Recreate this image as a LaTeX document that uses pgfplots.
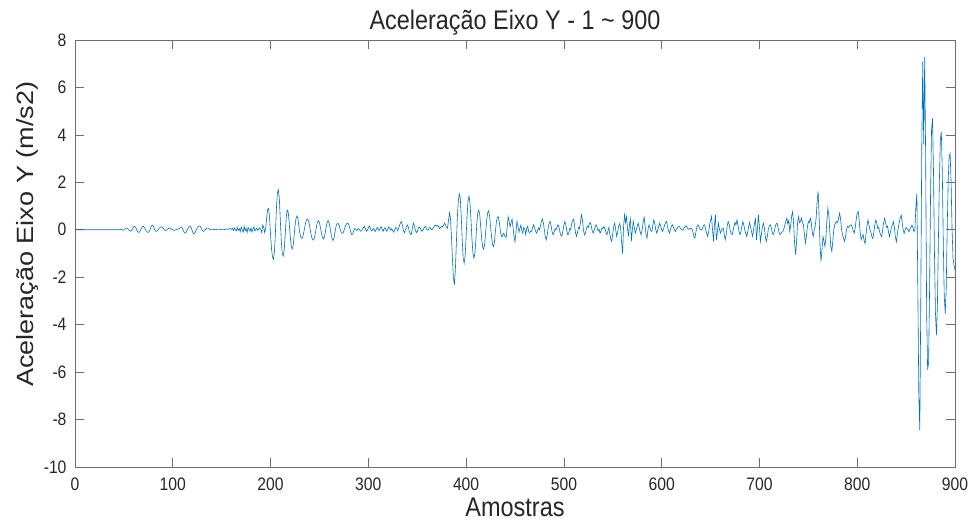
\documentclass[border=0pt]{standalone}
\usepackage{fontspec}
\setmainfont{Liberation Sans}
\usepackage{graphicx}
\usepackage{pgfplots}
\pgfplotsset{compat=1.18}
\definecolor{mlblue}{RGB}{0,114,189}
\definecolor{axgray}{RGB}{110,110,110}
\definecolor{txtgray}{RGB}{38,38,38}

\begin{document}
\begin{tikzpicture}
\begin{axis}[
  width=880pt, height=427pt, scale only axis,
  xmin=0, xmax=900, ymin=-10, ymax=8,
  xtick={0,100,...,900}, ytick={-10,-8,...,8},
  tick align=inside, xtick pos=both, ytick pos=both,
  major tick length=8.8pt,
  axis line style={axgray, line width=0.6pt},
  tick style={axgray, line width=0.6pt},
  /pgf/number format/assume math mode=true,
  tick label style={font=\fontsize{15.7}{16}\selectfont, text=txtgray},
  xticklabel={\scalebox{1}[1.15]{\pgfmathprintnumber{\tick}}},
  yticklabel={\scalebox{1}[1.15]{\pgfmathprintnumber{\tick}}},
  xticklabel style={yshift=-7pt},
  yticklabel style={xshift=-5pt},
  title={\scalebox{1}[1.15]{Aceleração Eixo Y - 1 \textasciitilde\ 900}},
  title style={font=\fontsize{23.4}{24}\selectfont, text=txtgray,
    at={(axis description cs:0.5,1.026)}, anchor=center},
  xlabel={\scalebox{1}[1.15]{Amostras}},
  ylabel={\scalebox{1.15}[1]{Aceleração Eixo Y (m/s2)}},
  xlabel style={font=\fontsize{23.5}{24}\selectfont, text=txtgray,
    at={(axis description cs:0.5,-0.0937)}, anchor=center},
  ylabel style={font=\fontsize{23.5}{24}\selectfont, text=txtgray,
    at={(axis description cs:-0.0545,0.545)}, anchor=center},
]
\addplot[mlblue, line width=0.6pt] table[row sep=\\] {
x y\\
1 0\\45 0\\46 0.01\\47 0.02\\48 0\\49 -0.02\\50 0\\
51 0.04\\52 0.07\\53 0.07\\54 0.04\\55 0\\56 -0.04\\57 -0.06\\58 -0.03\\59 0.06\\60 0.13\\
61 0.14\\62 0.1\\63 0.02\\64 -0.08\\65 -0.11\\66 -0.09\\67 -0.02\\68 0.07\\69 0.13\\70 0.14\\
71 0.1\\72 0.02\\73 -0.06\\74 -0.1\\75 -0.11\\76 -0.07\\77 0.03\\78 0.14\\79 0.2\\80 0.16\\
81 0.06\\82 -0.04\\83 -0.07\\84 -0.05\\85 0\\86 0.06\\87 0.1\\88 0.12\\89 0.12\\90 0.08\\
91 0.02\\92 -0.02\\93 -0.03\\94 0\\95 0.04\\96 0.07\\97 0.08\\98 0.05\\99 0.02\\100 0\\
101 -0.02\\102 -0.02\\103 0\\104 0.01\\105 0.02\\106 0.04\\107 0.07\\108 0.11\\109 0.12\\110 0.06\\
111 -0.06\\112 -0.13\\113 -0.14\\114 -0.08\\115 0.02\\116 0.1\\117 0.15\\118 0.16\\119 0.08\\120 -0.06\\
121 -0.15\\122 -0.17\\123 -0.1\\124 0\\125 0.08\\126 0.14\\127 0.16\\128 0.15\\129 0.08\\130 -0.02\\
131 -0.07\\132 -0.05\\133 0\\134 0.04\\135 0.07\\136 0.07\\137 0.04\\138 0.01\\139 0\\140 0\\
141 0.01\\142 0.02\\143 0.01\\144 0\\145 0.01\\146 0.02\\147 0.03\\148 0.02\\149 0.01\\150 0.02\\
151 0.03\\152 0.02\\153 0.01\\154 0.02\\155 0.03\\156 0.04\\157 0.02\\158 0.03\\159 0.05\\160 0.02\\
161 0.06\\162 -0.03\\163 0.08\\164 0.01\\165 -0.05\\166 0.1\\167 -0.02\\168 0.05\\169 -0.08\\170 0.12\\
171 0\\172 -0.1\\173 0.14\\174 -0.04\\175 0.06\\176 -0.12\\177 0.1\\178 0.02\\179 -0.06\\180 0.08\\
181 -0.1\\182 0.04\\183 0.12\\184 -0.05\\185 0.02\\186 0.07\\187 -0.03\\188 0.05\\189 0.09\\190 0.01\\
191 -0.12\\192 0.2\\193 0.1\\194 -0.12\\195 0.05\\196 0.5\\197 0.85\\198 0.9\\199 0.5\\200 -0.2\\
201 -0.8\\202 -1.15\\203 -1.24\\204 -0.9\\205 -0.1\\206 0.9\\207 1.55\\208 1.68\\209 1.3\\210 0.4\\
211 -0.5\\212 -1.0\\213 -1.1\\214 -0.85\\215 -0.2\\216 0.5\\217 0.83\\218 0.75\\219 0.35\\220 -0.2\\
221 -0.65\\222 -0.82\\223 -0.7\\224 -0.3\\225 0.15\\226 0.48\\227 0.58\\228 0.45\\229 0.15\\230 -0.15\\
231 -0.32\\232 -0.36\\233 -0.3\\234 -0.1\\235 0.12\\236 0.32\\237 0.43\\238 0.45\\239 0.35\\240 0.15\\
241 -0.1\\242 -0.3\\243 -0.42\\244 -0.43\\245 -0.32\\246 -0.1\\247 0.15\\248 0.33\\249 0.38\\250 0.3\\
251 0.1\\252 -0.12\\253 -0.32\\254 -0.39\\255 -0.3\\256 -0.1\\257 0.15\\258 0.33\\259 0.38\\260 0.28\\
261 0.05\\262 -0.2\\263 -0.4\\264 -0.45\\265 -0.33\\266 -0.08\\267 0.15\\268 0.25\\269 0.27\\270 0.2\\
271 0.05\\272 -0.08\\273 -0.14\\274 -0.15\\275 -0.05\\276 0.1\\277 0.2\\278 0.26\\279 0.27\\280 0.22\\
281 0.08\\282 -0.1\\283 -0.2\\284 -0.18\\285 -0.05\\286 0.05\\287 0.03\\288 -0.02\\289 0.02\\290 0.05\\
291 0\\292 -0.06\\293 -0.04\\294 0.03\\295 0.1\\296 0.14\\297 0.05\\298 -0.06\\299 -0.02\\300 0.08\\
301 0.16\\302 0.08\\303 -0.05\\304 -0.03\\305 0.06\\306 0.02\\307 -0.08\\308 0\\309 0.1\\310 0.05\\
311 -0.04\\312 0.06\\313 0.13\\314 0.04\\315 -0.07\\316 0.02\\317 0.09\\318 0\\319 -0.06\\320 0.04\\
321 0.12\\322 0.06\\323 -0.02\\324 0.05\\325 -0.05\\326 -0.1\\327 0\\328 0.1\\329 0.06\\330 -0.04\\
331 0.05\\332 0.2\\333 0.3\\334 0.34\\335 0.15\\336 -0.05\\337 -0.12\\338 0\\339 0.14\\340 0.2\\
341 0.1\\342 -0.08\\343 -0.18\\344 -0.2\\345 0.05\\346 0.28\\347 0.2\\348 0\\349 -0.12\\350 -0.08\\
351 0.05\\352 0.12\\353 0.08\\354 -0.02\\355 -0.06\\356 0\\357 0.08\\358 0.14\\359 0.1\\360 0\\
361 -0.02\\362 0.05\\363 0.1\\364 0.04\\365 0\\366 0.06\\367 0.12\\368 0.18\\369 0.2\\370 0.15\\
371 0.18\\372 0.12\\373 0.05\\374 0.1\\375 0.15\\376 0.12\\377 0.2\\378 0.28\\379 0.2\\380 0.1\\
381 0.07\\382 0.4\\383 0.72\\384 0.5\\385 -0.3\\386 -1.2\\387 -2.0\\388 -2.33\\389 -1.7\\390 -0.6\\
391 0.5\\392 1.2\\393 1.51\\394 1.35\\395 0.6\\396 -0.4\\397 -1.2\\398 -1.41\\399 -1.1\\400 -0.3\\
401 0.6\\402 1.25\\403 1.42\\404 1.1\\405 0.4\\406 -0.4\\407 -1.0\\408 -1.2\\409 -1.0\\410 -0.4\\
411 0.3\\412 0.75\\413 0.83\\414 0.6\\415 0.1\\416 -0.4\\417 -0.75\\418 -0.82\\419 -0.6\\420 -0.1\\
421 0.4\\422 0.72\\423 0.8\\424 0.6\\425 0.15\\426 -0.3\\427 -0.62\\428 -0.71\\429 -0.5\\430 -0.05\\
431 0.35\\432 0.53\\433 0.55\\434 0.3\\435 -0.05\\436 -0.25\\437 -0.29\\438 -0.15\\439 -0.2\\440 -0.3\\
441 -0.32\\442 0.1\\443 0.55\\444 0.35\\445 0.13\\446 0.3\\447 0.45\\448 0.1\\449 -0.3\\450 -0.5\\
451 -0.1\\452 0.35\\453 0.15\\454 -0.1\\455 0.05\\456 0.2\\457 -0.05\\458 -0.15\\459 0.1\\460 0.02\\
461 -0.2\\462 0.05\\463 0.15\\464 -0.08\\465 -0.12\\466 -0.05\\467 -0.07\\468 0.1\\469 0.21\\470 0.1\\
471 -0.05\\472 -0.14\\473 -0.05\\474 0.08\\475 0\\476 0.15\\477 0.35\\478 0.45\\479 0.3\\480 0\\
481 -0.3\\482 -0.42\\483 -0.2\\484 0.1\\485 0.3\\486 0.35\\487 0.15\\488 -0.1\\489 -0.21\\490 -0.1\\
491 0.05\\492 0\\493 0.12\\494 0.21\\495 0.1\\496 -0.1\\497 -0.25\\498 -0.28\\499 -0.05\\500 0.2\\
501 0.35\\502 0.2\\503 -0.05\\504 -0.21\\505 -0.15\\506 0.05\\507 0\\508 0.25\\509 0.4\\510 0.45\\
511 0.15\\512 -0.15\\513 -0.28\\514 -0.1\\515 0.1\\516 0.05\\517 0.35\\518 0.63\\519 0.4\\520 0\\
521 -0.21\\522 -0.15\\523 0.05\\524 0.15\\525 0.1\\526 0.25\\527 0.31\\528 0.15\\529 -0.05\\530 -0.14\\
531 0\\532 0.12\\533 0.21\\534 0.1\\535 -0.05\\536 0.02\\537 -0.14\\538 -0.05\\539 0.08\\540 0.05\\
541 0.14\\542 0.05\\543 -0.1\\544 -0.21\\545 -0.05\\546 0.1\\547 -0.2\\548 -0.4\\549 -0.49\\550 -0.15\\
551 0.15\\552 0.28\\553 0\\554 -0.28\\555 -0.1\\556 0.15\\557 0.25\\558 0.1\\559 -0.5\\560 -1.0\\
561 0.1\\562 0.63\\563 0.3\\564 0.56\\565 0.1\\566 -0.28\\567 0.2\\568 0.45\\569 -0.49\\570 0\\
571 0.35\\572 0.1\\573 -0.14\\574 0\\575 0.15\\576 0.28\\577 0.1\\578 -0.1\\579 -0.21\\580 0\\
581 0.3\\582 0.53\\583 0.2\\584 -0.2\\585 -0.35\\586 0\\587 0.21\\588 0.1\\589 -0.05\\590 -0.07\\
591 0.2\\592 0.42\\593 0.25\\594 0\\595 -0.14\\596 0\\597 0.15\\598 0.28\\599 0.15\\600 0\\
601 -0.07\\602 0.05\\603 0.2\\604 0.3\\605 0.35\\606 0.15\\607 -0.05\\608 -0.14\\609 0\\610 0.15\\
611 0.21\\612 0.1\\613 0\\614 -0.07\\615 0.02\\616 0.08\\617 0.12\\618 0.14\\619 0.08\\620 0.02\\
621 -0.02\\622 0\\623 0.08\\624 0.14\\625 0.17\\626 0.1\\627 0.04\\628 0.02\\629 0.06\\630 0.07\\
631 0.03\\632 -0.1\\633 -0.3\\634 -0.35\\635 -0.1\\636 0.12\\637 0.21\\638 0.15\\639 0.05\\640 0\\
641 0\\642 0.1\\643 0.2\\644 0.21\\645 0\\646 -0.15\\647 -0.28\\648 -0.1\\649 0.2\\650 0.4\\
651 0.56\\652 0\\653 -0.49\\654 0.2\\655 0.63\\656 -0.42\\657 -0.1\\658 0.28\\659 0.05\\660 -0.14\\
661 -0.05\\662 0.05\\663 0.07\\664 -0.2\\665 -0.42\\666 -0.2\\667 0.15\\668 0.35\\669 0.25\\670 0\\
671 -0.15\\672 -0.21\\673 -0.05\\674 0.15\\675 0.31\\676 0.2\\677 0.42\\678 0.2\\679 -0.05\\680 -0.21\\
681 -0.1\\682 0.15\\683 0.35\\684 0.2\\685 0\\686 -0.15\\687 -0.28\\688 -0.1\\689 0.15\\690 0.31\\
691 0.1\\692 -0.1\\693 -0.28\\694 0\\695 0.3\\696 0.45\\697 -0.42\\698 0.1\\699 0.63\\700 0.1\\
701 -0.49\\702 -0.2\\703 0.1\\704 0.28\\705 0.1\\706 -0.3\\707 -0.49\\708 -0.3\\709 0\\710 0.15\\
711 0.21\\712 0.1\\713 -0.1\\714 -0.21\\715 -0.1\\716 0.1\\717 0.25\\718 0.28\\719 0.1\\720 -0.1\\
721 -0.21\\722 -0.15\\723 -0.1\\724 -0.07\\725 0.05\\726 0.2\\727 0.35\\728 0.49\\729 0.25\\730 0.4\\
731 -0.07\\732 0.2\\733 0.6\\734 0.77\\735 0.2\\736 -0.6\\737 -1.05\\738 -0.5\\739 0.3\\740 0.56\\
741 0.3\\742 0.35\\743 0.49\\744 0.3\\745 0.21\\746 -0.2\\747 -0.56\\748 -0.3\\749 0.1\\750 0.35\\
751 0.3\\752 0.49\\753 0.3\\754 -0.1\\755 -0.28\\756 0\\757 0.14\\758 0.5\\759 1.2\\760 1.62\\
761 0.6\\762 -0.7\\763 -1.33\\764 -0.8\\765 -0.28\\766 -0.5\\767 -0.7\\768 -0.3\\769 0.4\\770 0.91\\
771 0.6\\772 -0.1\\773 -0.7\\774 -0.91\\775 -0.5\\776 0\\777 0.21\\778 0.3\\779 0.35\\780 0.3\\
781 0.5\\782 0.7\\783 0.45\\784 0\\785 -0.21\\786 -0.35\\787 -0.49\\788 -0.3\\789 0\\790 0.14\\
791 0.1\\792 0.15\\793 0.2\\794 0.21\\795 0.1\\796 -0.05\\797 -0.14\\798 0.1\\799 0.45\\800 0.7\\
801 0.77\\802 0.4\\803 -0.1\\804 -0.42\\805 -0.3\\806 -0.2\\807 -0.45\\808 -0.58\\809 -0.2\\810 0.2\\
811 0.41\\812 0.2\\813 0\\814 -0.1\\815 -0.3\\816 -0.37\\817 -0.1\\818 0.2\\819 0.41\\820 0.3\\
821 0.05\\822 0.1\\823 -0.1\\824 -0.2\\825 -0.29\\826 0\\827 0.3\\828 0.48\\829 0.3\\830 0.1\\
831 0.15\\832 -0.1\\833 -0.29\\834 -0.1\\835 0.1\\836 0.2\\837 0.34\\838 0.1\\839 -0.3\\840 -0.51\\
841 -0.2\\842 0.1\\843 0.3\\844 0.5\\845 0.62\\846 0.3\\847 0\\848 -0.15\\849 0\\850 0.1\\
851 0.05\\852 0\\853 -0.08\\854 0.05\\855 0.1\\856 0.2\\857 0.1\\858 -0.08\\859 0\\860 1.0\\
861 1.53\\862 -2.5\\863 -7.0\\864 -8.44\\865 -3.0\\866 3.5\\867 7.1\\868 3.6\\869 7.29\\870 3.0\\
871 -3.5\\872 -5.9\\873 -5.6\\874 -2.5\\875 1.5\\876 4.2\\877 4.69\\878 2.5\\879 -1.0\\880 -3.5\\
881 -4.44\\882 -3.2\\883 -0.5\\884 2.0\\885 3.8\\886 4.13\\887 2.5\\888 -0.5\\889 -2.8\\890 -3.53\\
891 -2.5\\892 0\\893 2.0\\894 3.1\\895 3.22\\896 2.0\\897 0\\898 -1.2\\899 -1.5\\900 -1.7\\
};
\end{axis}
\pgfresetboundingbox
\path[use as bounding box] (current axis.south west) ++(-75pt,-58pt) rectangle ++(971pt,525pt);
\end{tikzpicture}
\end{document}
